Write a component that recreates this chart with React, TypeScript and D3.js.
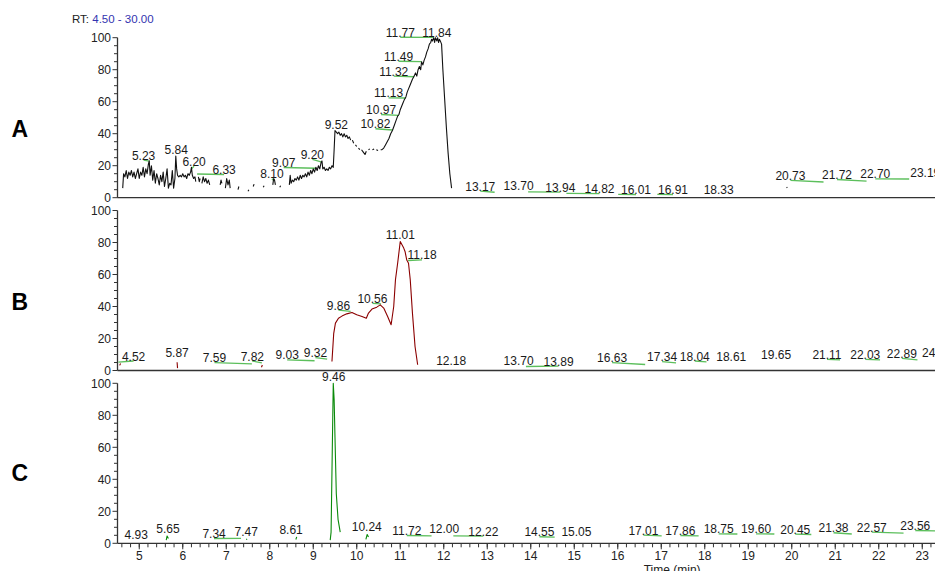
import React from "react";
import * as d3 from "d3";

// Retention-time window and intensity ticks
const rtStart = 4.5;
const rtEnd = 30;
const yMajorTicks = [0, 20, 40, 60, 80, 100];
const rtHeader = ["RT:", "4.50 - 30.00"];
const panelNames = ["A", "B", "C"];
const xTitle = "Time (min)";

type Pt = [number, number];
const GAP: Pt = [NaN, NaN];

// Chromatogram A (relative abundance vs. retention time)
const traceA: Pt[] = [
  [4.62, 6], [4.64, 15], [4.67, 13], [4.7, 17], [4.73, 12], [4.76, 16], [4.79, 14], [4.82, 17],
  [4.85, 13], [4.88, 16], [4.91, 12], [4.94, 15], [4.97, 18], [5.0, 12], [5.03, 16], [5.06, 14],
  [5.09, 19], [5.12, 13], [5.15, 18], [5.18, 15], [5.21, 21], [5.23, 23], [5.25, 14], [5.28, 20],
  [5.31, 11], [5.34, 17], [5.37, 9], [5.4, 15], [5.43, 12], [5.46, 8], [5.49, 14], [5.52, 10],
  [5.55, 16], [5.58, 7], [5.61, 12], [5.64, 18], [5.67, 6], [5.7, 9], [5.73, 8], [5.76, 17],
  [5.79, 6], [5.82, 12], [5.84, 26], [5.86, 18], [5.88, 14], [5.91, 13], [5.94, 14], [5.97, 13],
  [6.0, 15], [6.03, 13], [6.06, 14], [6.09, 12], [6.12, 15], [6.15, 14], [6.18, 16], [6.2, 19],
  [6.22, 14], [6.25, 12], [6.28, 13], [6.3, 10], GAP,
  [6.36, 13], [6.38, 10], [6.4, 12], GAP,
  [6.44, 9], [6.47, 13], [6.5, 10], [6.53, 12], [6.56, 9], [6.59, 11], [6.62, 8], GAP,
  [6.86, 8], [6.88, 11], [6.9, 9], GAP,
  [6.98, 6], [7.01, 12], [7.04, 8], [7.07, 11], [7.09, 6], GAP,
  [7.27, 5], [7.29, 7], GAP,
  [7.5, 4], [7.52, 5], GAP,
  [7.62, 7], [7.64, 8.5], GAP,
  [7.85, 6.5], [7.87, 7.5], GAP,
  [8.07, 8], [8.09, 12], [8.11, 11], [8.13, 8], GAP,
  [8.23, 6.5], [8.25, 7.5], GAP,
  [8.45, 8], [8.47, 14], [8.49, 9], [8.52, 11], [8.55, 10], [8.58, 12], [8.61, 11], [8.64, 13],
  [8.67, 11], [8.7, 14], [8.73, 12], [8.76, 14], [8.79, 13], [8.82, 15], [8.85, 13], [8.88, 16],
  [8.91, 14], [8.94, 17], [8.97, 15], [9.0, 18], [9.03, 16], [9.06, 19], [9.09, 17], [9.12, 20],
  [9.15, 18], [9.18, 22], [9.2, 23], [9.22, 18], [9.25, 19], [9.28, 17], [9.31, 18], [9.34, 17],
  [9.37, 19], [9.4, 18], [9.43, 20], [9.46, 19], [9.48, 30], [9.5, 42], [9.53, 41], [9.56, 40],
  [9.59, 41], [9.62, 39], [9.65, 40], [9.68, 38], [9.71, 40], [9.74, 38], [9.77, 39], [9.8, 37],
  [9.83, 38], [9.86, 36], GAP,
  [9.9, 36], [9.93, 34], GAP,
  [9.97, 33], [10.0, 32], GAP,
  [10.04, 31], [10.07, 30], GAP,
  [10.11, 30], [10.15, 28.5], [10.19, 27], [10.22, 29], GAP,
  [10.27, 30], [10.3, 30.5], GAP,
  [10.36, 30], [10.4, 30.5], GAP,
  [10.45, 30], [10.49, 29.5], GAP,
  [10.55, 30], [10.58, 30], [10.62, 31], [10.66, 33], [10.7, 35], [10.74, 37], [10.78, 40],
  [10.82, 42], [10.86, 45], [10.9, 48], [10.94, 51], [10.97, 52], [11.0, 55], [11.03, 57],
  [11.06, 59], [11.09, 61], [11.13, 63], [11.16, 66], [11.19, 68], [11.22, 70], [11.25, 72],
  [11.28, 74], [11.32, 76], [11.35, 78], [11.38, 76], [11.41, 80], [11.44, 82], [11.47, 80],
  [11.49, 85], [11.52, 83], [11.55, 86], [11.58, 88], [11.61, 91], [11.64, 93], [11.67, 96],
  [11.7, 97], [11.72, 99], [11.74, 98], [11.77, 100], [11.79, 97], [11.81, 100], [11.84, 98],
  [11.86, 100], [11.88, 97], [11.9, 99], [11.92, 98], [11.95, 96], [11.98, 80], [12.02, 62],
  [12.06, 44], [12.1, 28], [12.14, 15], [12.18, 6], GAP,
  [19.88, 6.2], [19.9, 6.6],
];

// Chromatogram B
const traceB: Pt[] = [
  [4.55, 3.2], [4.57, 4.4], GAP,
  [5.87, 5.2], [5.88, 1.5], GAP,
  [7.81, 2], [7.83, 3.4], GAP,
  [9.43, 5.6], [9.47, 23], [9.51, 29.6], [9.58, 32.7], [9.66, 34], [9.77, 35.4], [9.89, 36.3],
  [10.0, 34.8], [10.12, 33.8], [10.22, 32.7], [10.27, 35.9], [10.35, 38.4], [10.46, 39.6],
  [10.54, 41], [10.62, 39], [10.71, 33.8], [10.79, 28.6], [10.85, 40], [10.89, 56.7],
  [10.94, 67], [11.0, 80.6], [11.04, 78.6], [11.08, 76.5], [11.11, 74.4], [11.15, 69],
  [11.19, 67], [11.23, 56.7], [11.28, 36], [11.34, 15], [11.4, 3.6],
];

// Chromatogram C
const traceC: Pt[] = [
  [5.62, 2], [5.64, 4.6], [5.67, 3], GAP,
  [7.46, 2.3], [7.48, 2.8], GAP,
  [8.6, 2.4], [8.62, 4], GAP,
  [9.39, 2], [9.41, 7], [9.46, 100], [9.48, 90], [9.5, 66], [9.53, 31], [9.57, 15], [9.62, 7], GAP,
  [10.21, 2.5], [10.24, 5.5], [10.27, 4],
];

// Peak labels: [retention time, label centre RT, label level, peak level or null when no leader]
type PeakLabel = [number, number, number, number | null];

const labelsA: PeakLabel[] = [
  [5.23, 5.1, 23.75, 22.9], [5.84, 5.85, 27.5, null], [6.2, 6.26, 20, 18],
  [6.33, 6.95, 14.8, 14.8], [8.1, 8.05, 12.1, 10.5], [9.07, 8.32, 19.2, 18.4],
  [9.2, 8.98, 24.2, 22.3], [9.52, 9.53, 42.9, null], [10.82, 10.43, 43.4, 42.3],
  [10.97, 10.56, 52.3, 51.5], [11.13, 10.73, 62.75, 62.3], [11.32, 10.85, 76.25, 75.6],
  [11.49, 10.96, 85.6, 85], [11.77, 11.0, 100.6, 100.25], [11.84, 11.84, 100.6, null],
  [13.17, 12.84, 4.4, 3.4], [13.7, 13.72, 4.8, null], [13.94, 14.68, 3.75, 3.6],
  [14.82, 15.58, 2.9, 2.75], [16.01, 16.42, 2.3, 2.1], [16.91, 17.27, 2.3, 2.1],
  [18.33, 18.32, 2.3, null], [20.73, 19.97, 11.1, 9.8], [21.72, 21.04, 11.7, 10.4],
  [22.7, 21.92, 12.1, 11.7], [23.19, 23.07, 13.1, null],
];

const labelsB: PeakLabel[] = [
  [4.52, 4.87, 6.25, 5.25], [5.87, 5.87, 8.75, null], [7.59, 6.73, 5.25, 4.2],
  [7.82, 7.6, 6.25, 4.8], [9.03, 8.4, 6.9, 6.1], [9.32, 9.05, 8.4, 7.1],
  [9.86, 9.58, 38.1, 36.9], [10.56, 10.36, 42.3, 41.7], [11.01, 11.0, 82.3, null],
  [11.18, 11.5, 69.4, 68.75], [12.18, 12.17, 3.6, null], [13.7, 13.72, 3.75, null],
  [13.89, 14.64, 3.1, 2.5], [16.63, 15.87, 5.25, 3.75], [17.34, 17.02, 5.9, 4.8],
  [18.04, 17.77, 6.25, 5.4], [18.61, 18.61, 6.25, null], [19.65, 19.64, 7.3, null],
  [21.11, 20.81, 7.3, 6.7], [22.03, 21.69, 7.3, 6.7], [22.89, 22.53, 7.9, 6.7],
  [24.05, 23.34, 8.6, null],
];

const labelsC: PeakLabel[] = [
  [4.93, 4.93, 2.7, null], [5.65, 5.66, 6.4, null], [7.34, 6.72, 3.3, 3.1],
  [7.47, 7.46, 4.75, null], [8.61, 8.49, 5.8, null], [9.46, 9.47, 101.6, null],
  [10.24, 10.23, 7.9, null], [11.72, 11.15, 5.2, 4.6], [12.0, 12.01, 6.4, null],
  [12.22, 12.91, 4.75, 4.6], [14.55, 14.2, 4.4, 3.9], [15.05, 15.05, 4.4, null],
  [17.01, 16.59, 5.4, 4.6], [17.86, 17.44, 5.2, 4.6], [18.75, 18.32, 6.25, 5.8],
  [19.6, 19.18, 6.25, 5.8], [20.45, 20.08, 6, 5.5], [21.38, 20.96, 6.9, 5.8],
  [22.57, 21.84, 7.25, 6.4], [23.56, 22.84, 8.3, 7.7],
];

const traces = [traceA, traceB, traceC];
const labelSets = [labelsA, labelsB, labelsC];
const traceColors = ["#111111", "#8b0000", "#0a8a0a"];

const W = 935;
const H = 571;
const FONT = "'Liberation Sans', Arial, Helvetica, sans-serif";

export default function App() {
  const axisX = 117.5;
  const x = d3.scaleLinear().domain([rtStart, rtEnd]).range([axisX, axisX + (rtEnd - rtStart) * 43.5]);
  const panelTop = 37.7;
  const panelStep = 172.8;
  const panelH = 160;

  const minorY = d3.range(0, 101, 5);
  const majorX = d3.range(5, 31, 1);
  const minorX = d3.range(46, 301, 2).map((v) => v / 10);

  return (
    <svg
      width={W}
      height={H}
      style={{ position: "absolute", left: 0, top: 0, background: "#fff" }}
      fontFamily={FONT}
    >
      <rect width={W} height={H} fill="#fff" />
      <text x={72} y={23} fontSize={11.5}>
        <tspan fill="#222">{rtHeader[0]} </tspan>
        <tspan fill="#3333b0">{rtHeader[1]}</tspan>
      </text>

      {traces.map((trace, i) => {
        const top = panelTop + i * panelStep;
        const y = d3.scaleLinear().domain([0, 100]).range([top + panelH, top]);
        const line = d3
          .line<Pt>()
          .defined((d) => !isNaN(d[1]))
          .x((d) => x(d[0]))
          .y((d) => y(d[1]));
        const zero = y(0);
        return (
          <g key={i}>
            <text x={11.5} y={top + 99 + (i === 2 ? -1 : 0)} fontSize={23} fontWeight="bold" fill="#000">
              {panelNames[i]}
            </text>
            {/* y axis */}
            <line x1={axisX} x2={axisX} y1={y(100)} y2={zero} stroke="#333" strokeWidth={1.3} />
            {minorY.map((v) => (
              <line
                key={v}
                x1={axisX - (v % 20 === 0 ? 5 : 3.5)}
                x2={axisX}
                y1={y(v)}
                y2={y(v)}
                stroke="#333"
                strokeWidth={1}
              />
            ))}
            {yMajorTicks.map((v) => (
              <text key={v} x={111} y={y(v)} dy="0.35em" fontSize={12} textAnchor="end" fill="#222">
                {v}
              </text>
            ))}
            {/* baseline */}
            <line x1={axisX} x2={W} y1={zero} y2={zero} stroke="#333" strokeWidth={1.3} />

            {/* peak labels with leaders */}
            {labelSets[i].map(([rt, lrt, lv, pv], j) => (
              <g key={j}>
                {pv !== null && (
                  <line
                    x1={x(lrt)}
                    y1={y(lv) + 0.5}
                    x2={x(rt)}
                    y2={y(pv)}
                    stroke="#5cbf5c"
                    strokeWidth={1.3}
                  />
                )}
                <text x={x(lrt)} y={y(lv)} fontSize={12} textAnchor="middle" fill="#1a1a1a">
                  {rt.toFixed(2)}
                </text>
              </g>
            ))}

            <path d={line(trace) ?? ""} fill="none" stroke={traceColors[i]} strokeWidth={1.1} strokeLinejoin="round" />

            {i === 2 && (
              <g>
                {minorX.map((v) => (
                  <line key={v} x1={x(v)} x2={x(v)} y1={zero} y2={zero + 4} stroke="#333" strokeWidth={1} />
                ))}
                {majorX.map((v) => (
                  <g key={v}>
                    <line x1={x(v)} x2={x(v)} y1={zero} y2={zero + 6} stroke="#333" strokeWidth={1} />
                    <text x={x(v)} y={zero + 16.5} fontSize={12} textAnchor="middle" fill="#222">
                      {v}
                    </text>
                  </g>
                ))}
                <text x={x((rtStart + rtEnd) / 2)} y={zero + 31} fontSize={12} textAnchor="middle" fill="#222">
                  {xTitle}
                </text>
              </g>
            )}
          </g>
        );
      })}
    </svg>
  );
}
